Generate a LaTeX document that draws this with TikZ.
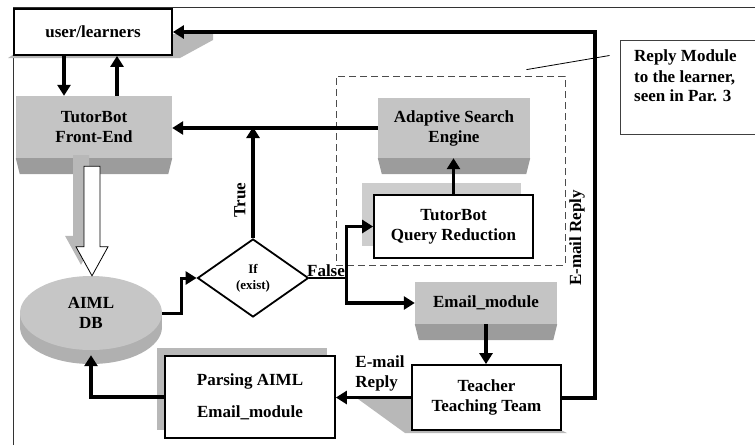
\documentclass[tikz,border=0pt]{standalone}
\usepackage{fontspec}
\setmainfont{Liberation Serif}
\usetikzlibrary{arrows.meta,shapes.geometric,calc,shadows}
\definecolor{facec}{HTML}{C4C4C4}
\definecolor{sidec}{HTML}{9C9C9C}
\definecolor{shdc}{HTML}{B8B8B8}
\definecolor{shdl}{HTML}{CDCDCD}
\definecolor{dbtop}{HTML}{C6C6C6}
\definecolor{dbside}{HTML}{B0B0B0}
\newcommand\botface[1]{\fill[sidec] (#1.south west) -- (#1.south east) -- ([xshift=-4pt,yshift=-16pt]#1.south east) -- ([xshift=4pt,yshift=-16pt]#1.south west) -- cycle;}
\begin{document}
\begin{tikzpicture}[x=1pt,y=-1pt,
  font=\fontsize{17}{20}\selectfont\bfseries,
  box/.style={draw=black, line width=1.8pt, fill=white, align=center, inner sep=0pt},
  face/.style={fill=facec, align=center, inner sep=0pt},
  arr/.style={line width=3.5pt, -{Triangle[length=11pt,width=13pt]}},
  lbl/.style={inner sep=0pt, align=center}
]
\useasboundingbox (0,0) rectangle (755,445);
% frame
\draw[line width=1pt, black!80] (13,445) -- (13,7) -- (755,7);

% user/learners
\fill[shdc] (172,34) -- (213,34) -- (213,40) -- (180,58) -- (8,58) -- (14,54) -- cycle;
\node[box, minimum width=158pt, minimum height=46pt] (user) at (93,32) {user/learners};

% front end
\node[face, minimum width=156pt, minimum height=62pt] (front) at (94,127) {TutorBot\\Front-End};
\botface{front}

% reply module dashed region
\node[draw=black!70, dashed, dash pattern=on 7pt off 4pt, line width=0.8pt, minimum width=229pt, minimum height=189pt, inner sep=0pt] (reply) at (450.5,170.5) {};

% adaptive search engine
\node[face, minimum width=152pt, minimum height=60pt] (ase) at (454,128) {Adaptive Search\\Engine};
\botface{ase}

% query reduction
\node[box, minimum width=159pt, minimum height=63pt, drop shadow={shadow xshift=-12pt, shadow yshift=12pt, fill=shdl, opacity=1}] (qr) at (453.5,226.5) {TutorBot\\Query Reduction};

% email module
\node[face, minimum width=142pt, minimum height=42pt] (email) at (486,303) {Email\_module};
\botface{email}

% teacher
\fill[shdc] (358,399) -- (412,399) -- (412,430) -- (561,430) -- (567,433) -- (405,433) -- cycle;
\node[box, minimum width=149pt, minimum height=65pt] (teacher) at (486.5,397.5) {Teacher\\Teaching Team};

% parsing
\node[box, minimum width=170pt, minimum height=82pt, drop shadow={shadow xshift=-8pt, shadow yshift=8pt, fill=shdc, opacity=1}] (parse) at (250,397) {Parsing AIML\\[12pt]Email\_module};

% AIML DB cylinder
\fill[dbside] (91,327) ellipse[x radius=71pt, y radius=37pt];
\fill[dbside] (20,313) rectangle (162,327);
\node[ellipse, fill=dbtop, minimum width=142pt, minimum height=74pt, inner sep=0pt, align=center] (db) at (91,313) {AIML\\DB};

% decision
\node[diamond, draw=black, line width=1.8pt, fill=white, minimum width=111pt, minimum height=78pt, inner sep=0pt, align=center, font=\fontsize{13}{16}\selectfont\bfseries] (dia) at (253,278) {If\\(exist)};

% hollow arrow front -> db
\coordinate (hs) at ([xshift=-2pt,yshift=-8pt]front.south);
\coordinate (he) at (db.north);
\draw[line width=0.8pt, fill=white, drop shadow={shadow xshift=-11pt, shadow yshift=11pt, fill=shdc, opacity=1}]
  ($(hs)+(-8,0)$) -- ($(hs)+(8,0)$) -- ($(hs |- he)+(8,-29)$) -- ($(hs |- he)+(16,-29)$)
  -- (hs |- he) -- ($(hs |- he)+(-16,-29)$) -- ($(hs |- he)+(-8,-29)$) -- cycle;

% connectors
\draw[arr] ([xshift=-29pt]user.south) -- ([xshift=-29pt]user.south |- front.north);
\draw[arr] ([xshift=24pt]user.south |- front.north) -- ([xshift=24pt]user.south);
\draw[arr] (ase.west) -- (ase.west -| front.east);
\draw[arr] (dia.north) -- (dia.north |- front.east);
\draw[arr, line width=3pt] (db.east) -- ++(19,0) |- (dia.west);
\coordinate (fork) at ($(dia.east)+(37,0)$);
\draw[line width=1.5pt] (dia.east) -- (fork);
\draw[arr] (fork) |- (qr.west);
\draw[arr] (fork) |- (email.west);
\draw[arr] (qr.north) -- (qr.north |- ase.south);
\draw[arr] (email.south) -- (email.south |- teacher.north);
\draw[arr, line width=4pt] (teacher.east) -- ++(33,0) |- (user.east);
\draw[arr, line width=3pt] (teacher.west) -- (teacher.west -| parse.east);
\draw[arr] (parse.west) -| ([yshift=-5pt]db.south);

% labels
\node[lbl, rotate=90] (truelbl) at (240,200) {True};
\node[lbl, anchor=south] (falselbl) at (326,277) {False};
\node[lbl, rotate=90] (maillbl) at (577,238) {E-mail Reply};
\node[lbl, align=left] (maillbl2) at (380,373) {E-mail\\Reply};

% note
\node[draw=black!75, line width=1pt, minimum width=140pt, minimum height=94pt, inner sep=0pt] (note) at (690,87) {};
\node[anchor=north west, align=left, inner sep=0pt] (notetxt) at (634,50) {Reply Module\\to the learner,\\seen in Par. 3};
\draw[line width=0.8pt] ([xshift=76pt,yshift=6pt]reply.north) -- ([xshift=-10pt,yshift=-16pt]note.north west);
\end{tikzpicture}
\end{document}
